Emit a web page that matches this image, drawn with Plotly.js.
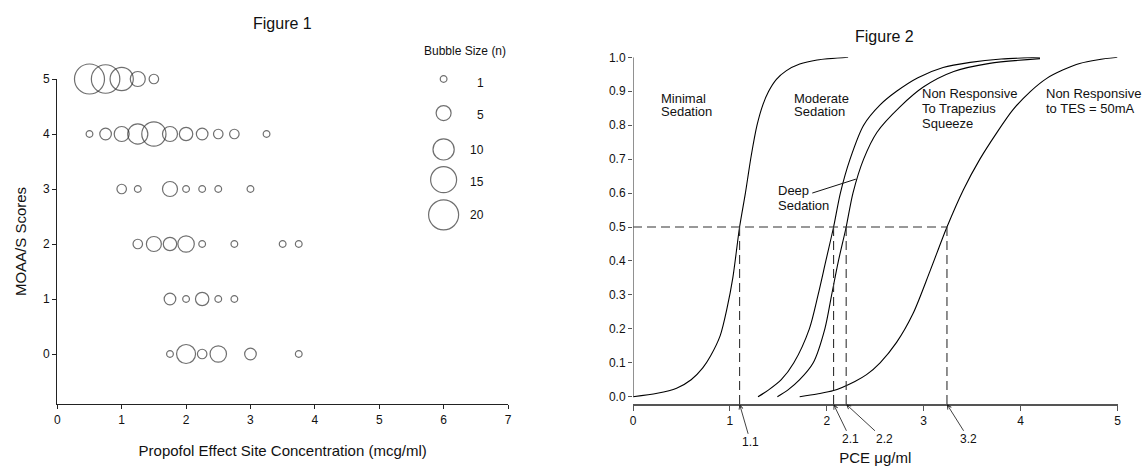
<!DOCTYPE html>
<html>
<head>
<meta charset="utf-8">
<script src="https://cdn.plot.ly/plotly-3.0.1.min.js"></script>
<style>html,body{margin:0;padding:0;background:#fff;}#chart{width:1145px;height:466px;}</style>
</head>
<body>
<div id="chart"></div>
<script>
// ---------------- Figure 1 data (bubble plot) ----------------
const moaasScores = [5, 4, 3, 2, 1, 0];
const conc5 = [0.5, 0.75, 1.0, 1.25, 1.5];
const count5 = [20, 18, 12, 5, 2];
const conc4 = [0.5, 0.75, 1.0, 1.25, 1.5, 1.75, 2.0, 2.25, 2.5, 2.75, 3.25];
const count4 = [1, 3, 5, 9, 13, 5, 4, 3, 2, 2, 1];
const conc3 = [1.0, 1.25, 1.75, 2.0, 2.25, 2.5, 3.0];
const count3 = [2, 1, 5, 1, 1, 1, 1];
const conc2 = [1.25, 1.5, 1.75, 2.0, 2.25, 2.75, 3.5, 3.75];
const count2 = [2, 5, 4, 6, 1, 1, 1, 1];
const conc1 = [1.75, 2.0, 2.25, 2.5, 2.75];
const count1 = [3, 1, 4, 1, 1];
const conc0 = [1.75, 2.0, 2.25, 2.5, 3.0, 3.75];
const count0 = [1, 8, 2, 6, 3, 1];
const bubbleLegendSizes = [1, 5, 10, 15, 20];
const xTicks1 = [0, 1, 2, 3, 4, 5, 6, 7];

// ---------------- Figure 2 data (probability curves) ----------------
const minimalX = [0.0, 0.25, 0.45, 0.6, 0.72, 0.8, 0.9, 0.97, 1.03, 1.1, 1.16, 1.22, 1.28, 1.34, 1.40, 1.48, 1.58, 1.72, 1.9, 2.22];
const minimalY = [0.0, 0.01, 0.025, 0.05, 0.085, 0.12, 0.18, 0.26, 0.35, 0.5, 0.6, 0.71, 0.8, 0.86, 0.9, 0.935, 0.96, 0.98, 0.992, 1.0];
const deepX = [1.29, 1.4, 1.53, 1.66, 1.82, 1.91, 1.99, 2.07, 2.14, 2.24, 2.38, 2.55, 2.72, 2.94, 3.2, 3.48, 3.8, 4.2];
const deepY = [0.0, 0.02, 0.05, 0.1, 0.2, 0.3, 0.4, 0.5, 0.6, 0.7, 0.8, 0.86, 0.9, 0.94, 0.97, 0.985, 0.995, 1.0];
const trapX = [1.49, 1.6, 1.72, 1.86, 1.98, 2.05, 2.12, 2.2, 2.27, 2.38, 2.52, 2.755, 3.0, 3.31, 3.68, 4.2];
const trapY = [0.0, 0.02, 0.05, 0.1, 0.2, 0.3, 0.4, 0.5, 0.6, 0.7, 0.78, 0.854, 0.913, 0.958, 0.982, 0.996];
const tesX = [1.72, 1.9, 2.07, 2.29, 2.41, 2.55, 2.72, 2.89, 3.065, 3.24, 3.41, 3.58, 3.75, 3.92, 4.1, 4.27, 4.44, 4.61, 4.8, 5.0];
const tesY = [0.0, 0.008, 0.018, 0.045, 0.065, 0.1, 0.16, 0.245, 0.37, 0.5, 0.61, 0.7, 0.776, 0.845, 0.899, 0.938, 0.963, 0.982, 0.993, 1.0];
const ec50Values = [1.1, 2.07, 2.2, 3.24];
const ec50Labels = ['1.1', '2.1', '2.2', '3.2'];
const xTicks2 = [0, 1, 2, 3, 4, 5];
const yTicks2 = [0.0, 0.1, 0.2, 0.3, 0.4, 0.5, 0.6, 0.7, 0.8, 0.9, 1.0];

// ---------------- layout helpers ----------------
const W = 1145, H = 466;
const px = x => x / W;
const py = y => 1 - y / H;
const FONT = 'Liberation Sans, Arial, Helvetica, sans-serif';
const Y2MIN = -0.0224;

// build bubble arrays
const rows = [[conc5, count5], [conc4, count4], [conc3, count3], [conc2, count2], [conc1, count1], [conc0, count0]];
const bx = [], by = [], bs = [];
rows.forEach((r, i) => {
  r[0].forEach((c, j) => { bx.push(c); by.push(moaasScores[i]); bs.push(r[1][j]); });
});
const SIZEREF = 0.0444;
const bubbleMarkerBase = {sizemode: 'area', sizeref: SIZEREF, color: 'rgba(0,0,0,0)', line: {color: '#333', width: 1.2}};

// legend bubble vertical positions (layout, in score units)
const legendPosY = [5.0, 4.38, 3.72, 3.17, 2.53];
const legendPosX = bubbleLegendSizes.map(() => 6);

const traces = [];
traces.push({
  type: 'scatter', mode: 'markers', x: bx, y: by, xaxis: 'x', yaxis: 'y',
  marker: Object.assign({size: bs}, bubbleMarkerBase), cliponaxis: false, hoverinfo: 'x+y'
});
traces.push({
  type: 'scatter', mode: 'markers', x: legendPosX, y: legendPosY, xaxis: 'x', yaxis: 'y',
  marker: Object.assign({size: bubbleLegendSizes}, bubbleMarkerBase), cliponaxis: false, hoverinfo: 'skip'
});

const curveStyle = {color: '#000', width: 1.1, shape: 'spline', smoothing: 0.8};
[[minimalX, minimalY], [deepX, deepY], [trapX, trapY], [tesX, tesY]].forEach(c => {
  traces.push({type: 'scatter', mode: 'lines', x: c[0], y: c[1], xaxis: 'x2', yaxis: 'y2', line: curveStyle, cliponaxis: false, hoverinfo: 'x+y'});
});

// dashed reference lines derived from EC50 values
const dashStyle = {color: '#333', width: 1.1, dash: '9px,5px'};
traces.push({type: 'scatter', mode: 'lines', x: [0, Math.max(...ec50Values)], y: [0.5, 0.5], xaxis: 'x2', yaxis: 'y2', line: dashStyle, hoverinfo: 'skip'});
const vx = [], vy = [];
ec50Values.forEach(v => { vx.push(v, v, null); vy.push(0.5, Y2MIN, null); });
traces.push({type: 'scatter', mode: 'lines', x: vx, y: vy, xaxis: 'x2', yaxis: 'y2', line: dashStyle, hoverinfo: 'skip', cliponaxis: false});

// ---------------- annotations ----------------
const ann = [];
function txt(t, x, y, size, anchor) {
  ann.push({text: t, x: px(x), y: py(y), xref: 'paper', yref: 'paper', showarrow: false,
    xanchor: anchor || 'center', yanchor: 'middle', font: {family: FONT, size: size, color: '#111'}});
}
txt('Figure 1', 282, 23, 16);
txt('Figure 2', 884, 36, 16);
txt('Bubble Size (n)', 464.5, 51, 12);
const legendLabelY = [83, 115, 150, 182, 215];
bubbleLegendSizes.forEach((s, i) => txt(String(s), 486, legendLabelY[i], 12, 'right'));

// figure 2 region labels (one annotation per line)
txt('Minimal', 659, 98, 13, 'left');
txt('Sedation', 659, 112, 13, 'left');
txt('Moderate', 792, 98, 13, 'left');
txt('Sedation', 792, 112, 13, 'left');
txt('Non Responsive', 920, 94, 13, 'left');
txt('To Trapezius', 920, 109, 13, 'left');
txt('Squeeze', 920, 123.5, 13, 'left');
txt('Non Responsive', 1044, 94, 13, 'left');
txt('to TES = 50mA', 1044, 109, 13, 'left');
txt('Deep', 776, 190, 13, 'left');
txt('Sedation', 776, 205, 13, 'left');

// EC50 arrows
const arrowOffsets = [[11, 38], [17, 35], [38, 35], [22, 35]];
ec50Values.forEach((v, i) => {
  ann.push({text: ec50Labels[i], x: v, y: Y2MIN, xref: 'x2', yref: 'y2', showarrow: true,
    ax: arrowOffsets[i][0], ay: arrowOffsets[i][1], arrowhead: 5, arrowsize: 1, arrowwidth: 0.8,
    arrowcolor: '#111', standoff: 0, font: {family: FONT, size: 12, color: '#111'}});
});

const shapes = [
  // y axis line of figure 2 (from 0 to 1, offset from the x axis)
  {type: 'line', xref: 'x2', yref: 'y2', x0: 0, x1: 0, y0: 0, y1: 1, line: {color: '#555', width: 1.3}},
  // leader line for "Deep Sedation"
  {type: 'line', xref: 'x2', yref: 'y2', x0: 1.85, y0: 0.60, x1: 2.30, y1: 0.641, line: {color: '#111', width: 1}}
];

const tickFont = {family: FONT, size: 12, color: '#111'};
const layout = {
  width: W, height: H, margin: {l: 0, r: 0, t: 0, b: 0},
  paper_bgcolor: '#fff', plot_bgcolor: 'rgba(0,0,0,0)', showlegend: false,
  font: {family: FONT, color: '#111'},
  xaxis: {domain: [px(57.3), px(508)], range: [0, 7], tickvals: xTicks1, ticks: 'outside', ticklen: 4, tickcolor: '#222',
    showline: true, linecolor: '#222', linewidth: 1.2, showgrid: false, zeroline: false, tickfont: tickFont,
    title: {text: 'Propofol Effect Site Concentration (mcg/ml)', font: {family: FONT, size: 15, color: '#111'}, standoff: 20}, anchor: 'y'},
  yaxis: {domain: [py(404), py(79)], range: [-0.909, 5], tickvals: moaasScores, ticks: 'outside', ticklen: 4, tickcolor: '#222',
    showline: true, linecolor: '#222', linewidth: 1.2, showgrid: false, zeroline: false, tickfont: tickFont,
    title: {text: 'MOAA/S Scores', font: {family: FONT, size: 15, color: '#111'}, standoff: 12}, anchor: 'x'},
  xaxis2: {domain: [px(633), px(1117.5)], range: [0, 5], tickvals: xTicks2, ticks: 'outside', ticklen: 5, tickcolor: '#555',
    showline: true, linecolor: '#555', linewidth: 1.3, showgrid: false, zeroline: false, tickfont: tickFont,
    title: {text: 'PCE μg/ml', font: {family: FONT, size: 15, color: '#111'}, standoff: 27}, anchor: 'y2'},
  yaxis2: {domain: [py(404.3), py(57.3)], range: [Y2MIN, 1.0], tickvals: yTicks2, tickformat: '.1f', ticks: 'outside', ticklen: 4, tickcolor: '#555',
    showline: false, showgrid: false, zeroline: false, tickfont: tickFont, anchor: 'x2'},
  annotations: ann,
  shapes: shapes
};

Plotly.newPlot('chart', traces, layout, {staticPlot: true, displayModeBar: false});
</script>
</body>
</html>
